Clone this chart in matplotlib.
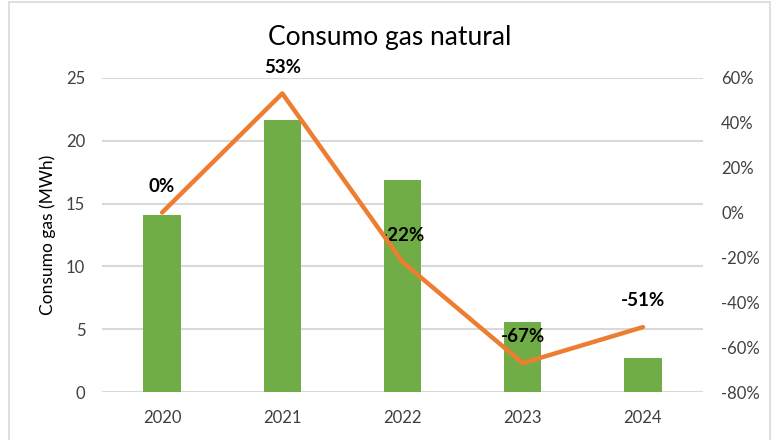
import matplotlib
matplotlib.use('Agg')
import matplotlib.pyplot as plt
from matplotlib.patches import Rectangle
from matplotlib.ticker import FuncFormatter

# Data
years = ['2020', '2021', '2022', '2023', '2024']
consumo_mwh = [14.1, 21.6, 16.9, 5.6, 2.7]
variacion_pct = [0, 53, -22, -67, -51]

green = '#70AD47'
orange = '#ED7D31'
grid_grey = '#D9D9D9'
text_grey = '#404040'

plt.rcParams['font.family'] = ['Lato', 'DejaVu Sans']

fig = plt.figure(figsize=(7.71, 4.40), dpi=100)
ax = fig.add_axes([0.1323, 0.1084, 0.9118 - 0.1323, 0.8234 - 0.1084])
ax2 = ax.twinx()

x = list(range(len(years)))
ax.bar(x, consumo_mwh, width=0.31, color=green, zorder=3)
ax.set_xlim(-0.5, len(years) - 0.5)
ax.set_ylim(0, 25)
ax.set_yticks([0, 5, 10, 15, 20, 25])
ax.set_xticks(x)
ax.set_xticklabels(years)
ax.grid(axis='y', color=grid_grey, linewidth=1.5, zorder=0)
ax.set_axisbelow(True)
ax.tick_params(axis='both', length=0, labelsize=12, labelcolor=text_grey)
ax.tick_params(axis='y', pad=12)
ax.tick_params(axis='x', pad=13)
ax.set_ylabel('Consumo gas (MWh)', fontsize=12.5, color='black')
ax.yaxis.set_label_coords(-0.076, 0.5)

# Line on the secondary axis
ax2.plot(x, variacion_pct, color=orange, linewidth=3.2, solid_capstyle='round', zorder=4)
ax2.set_ylim(-80, 60)
ax2.set_yticks(range(-80, 61, 20))
ax2.yaxis.set_major_formatter(FuncFormatter(lambda v, p: f'{int(v)}%'))
ax2.tick_params(axis='y', length=0, labelsize=12, labelcolor=text_grey, pad=13)

for xi, v in zip(x, variacion_pct):
    ax2.annotate(f'{v}%', (xi, v), xytext=(0, 19), textcoords='offset points',
                 ha='center', va='center', fontsize=13.5, fontweight='bold', color='black')

for a in (ax, ax2):
    for s in a.spines.values():
        s.set_visible(False)

fig.text(0.506, 1 - 37 / 440, 'Consumo gas natural', ha='center', va='center', fontsize=19, color='black')

# chart area border
fig.patches.append(Rectangle((9 / 771, -0.1), 761 / 771, 1.1 - 2 / 440, transform=fig.transFigure,
                             fill=False, edgecolor=grid_grey, linewidth=1.2))

fig.savefig('out.png', dpi=100, facecolor='white')
